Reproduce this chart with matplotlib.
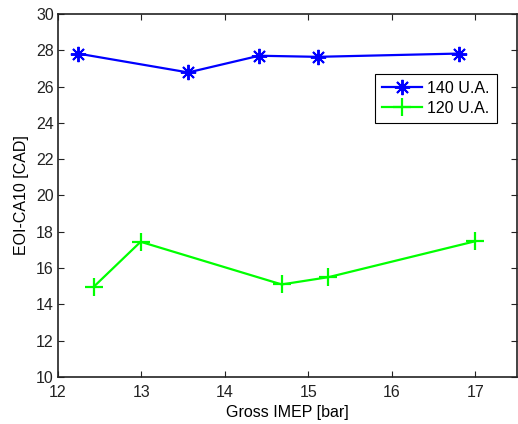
import matplotlib
matplotlib.use("Agg")
import matplotlib.pyplot as plt

plt.rcParams['font.family'] = ['Liberation Sans', 'DejaVu Sans']

# data
imep_140 = [12.24, 13.56, 14.41, 15.11, 16.80]
eoi_140 = [27.82, 26.78, 27.70, 27.64, 27.82]
imep_120 = [12.43, 12.99, 14.68, 15.24, 17.00]
eoi_120 = [14.98, 17.45, 15.10, 15.50, 17.48]

fig = plt.figure(figsize=(5.18, 4.24), dpi=100)
ax = fig.add_axes([58 / 518, 1 - 377 / 424, (517 - 58) / 518, (377 - 14) / 424])

# MATLAB-style asterisk: 8 arms
ax.plot(imep_140, eoi_140, color='#0000ff', lw=1.6, marker=(8, 2, 0), ms=11,
        mew=1.4, label='140 U.A.')
ax.plot(imep_120, eoi_120, color='#00ff00', lw=1.6, marker='+', ms=13,
        mew=1.6, label='120 U.A.')

ax.set_xlim(12, 17.5)
ax.set_ylim(10, 30)
ax.set_xticks([12, 13, 14, 15, 16, 17])
ax.set_yticks(range(10, 31, 2))
ax.tick_params(direction='in', top=True, right=True, labelsize=11.5,
               length=4, width=0.8, colors='#222222')
ax.tick_params(axis='x', pad=6)
ax.tick_params(axis='y', pad=3)
for s in ax.spines.values():
    s.set_linewidth(1.2)
    s.set_color('#222222')

ax.set_xlabel('Gross IMEP [bar]', fontsize=11.5, labelpad=3)
ax.set_ylabel('EOI-CA10 [CAD]', fontsize=11.5, labelpad=5)

leg = ax.legend(loc='upper right', bbox_to_anchor=(0.956, 0.835), fancybox=False,
                edgecolor='black', framealpha=1, fontsize=11.5, borderpad=0.45,
                labelspacing=0.3, handlelength=2.5, handletextpad=0.3,
                borderaxespad=0)
leg.get_frame().set_linewidth(0.8)

fig.savefig('out.png', dpi=100)
